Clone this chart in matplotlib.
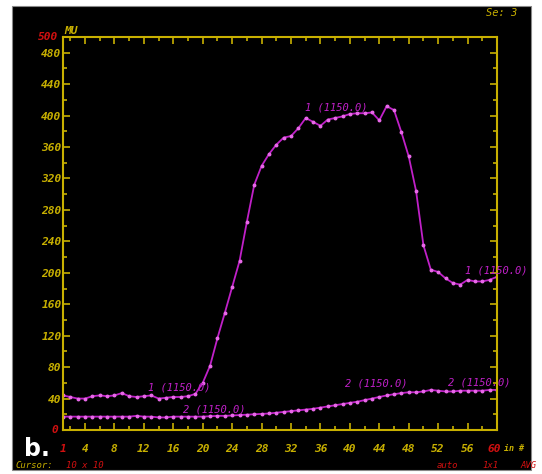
import numpy as np
import matplotlib.pyplot as plt
from matplotlib.patches import Rectangle

# scan index 1..60
x = np.arange(1, 61)

# channel 1 (upper trace)
ch1 = [44, 42, 40, 40, 43, 44, 43, 44, 47, 43,
       42, 43, 44, 40, 41, 42, 42, 43, 46, 60,
       82, 117, 149, 182, 215, 265, 312, 336, 351, 363,
       372, 374, 384, 397, 392, 387, 395, 397, 399, 402,
       403, 403, 404, 394, 412, 407, 379, 348, 304, 235,
       204, 201, 193, 187, 185, 191, 189, 189, 191, 195]

# channel 2 (lower trace)
ch2 = [17, 17, 17, 17, 17, 17, 17, 17, 17, 17,
       18, 17, 17, 16, 16, 17, 17, 17, 17, 17,
       17.5, 18, 18, 18.5, 19, 19.5, 20, 20.5, 21, 22,
       23, 24, 25, 26, 27, 28.5, 30, 31.5, 33, 34.5,
       36, 38, 40, 42, 44, 45.5, 47, 48, 48, 49,
       51, 50, 49, 49, 50, 50, 50, 50, 51, 51]

# trace labels: (x, y, text)
labels = [(12.6, 48, "1 (1150.0)"), (33.9, 404, "1 (1150.0)"), (55.6, 196, "1 (1150.0)"),
          (17.3, 20, "2 (1150.0)"), (39.3, 53, "2 (1150.0)"), (53.3, 54, "2 (1150.0)")]

yticks = list(range(40, 481, 40))
xticks = [4, 8, 12, 16, 20, 24, 28, 32, 36, 40, 44, 48, 52, 56]

YEL = "#c8b000"
RED = "#d01010"
MAG = "#c020c8"
DOT = "#e868e8"
MONO = "DejaVu Sans Mono"
TK = dict(family=MONO, style="italic", fontweight="bold", fontsize=8)

fig = plt.figure(figsize=(5.42, 4.74), dpi=100)
fig.patch.set_facecolor("white")
fig.patches.append(Rectangle((12 / 542, 4 / 474), 519 / 542, 464 / 474,
                             transform=fig.transFigure, facecolor="black",
                             edgecolor="#888888", lw=0.8, zorder=-1))

ax = fig.add_axes([63 / 542, 1 - 430 / 474, 434 / 542, 393 / 474])
ax.set_facecolor("black")
ax.plot(x, ch1, color=MAG, lw=1.3, marker="o", ms=1.8, mfc=DOT, mec=DOT)
ax.plot(x, ch2, color=MAG, lw=1.3, marker="o", ms=1.8, mfc=DOT, mec=DOT)
for lx, ly, t in labels:
    ax.text(lx, ly, t, color=MAG, fontsize=7.5, family=MONO, style="italic",
            va="bottom", ha="left")

ax.set_xlim(1, 60)
ax.set_ylim(0, 500)
for s in ax.spines.values():
    s.set_color(YEL)
    s.set_linewidth(1.5)

ax.set_xticks(xticks)
ax.set_xticks(np.arange(2, 60, 2), minor=True)
ax.set_yticks(yticks)
ax.set_yticks(np.arange(20, 500, 40), minor=True)
ax.tick_params(which="both", direction="in", colors=YEL, top=True, right=True)
ax.tick_params(which="major", length=5, width=1.2)
ax.tick_params(which="minor", length=3, width=1.2)
ax.tick_params(axis="x", pad=10)
ax.tick_params(axis="y", pad=1)
for lab in ax.get_xticklabels() + ax.get_yticklabels():
    lab.set(**TK)
    lab.set_color(YEL)

# end labels in red
ax.text(1, -24, "1", color=RED, ha="center", va="center", clip_on=False, **TK)
ax.text(59.6, -24, "60", color=RED, ha="center", va="center", clip_on=False, **TK)
ax.text(61.0, -24, "in #", color=YEL, ha="left", va="center", clip_on=False,
        family=MONO, style="italic", fontweight="bold", fontsize=6)
ax.text(0.4, 0, "0", color=RED, ha="right", va="center", clip_on=False, **TK)
ax.text(0.4, 500, "500", color=RED, ha="right", va="center", clip_on=False, **TK)
ax.text(1.2, 501, "MU", color=YEL, ha="left", va="bottom", clip_on=False, **TK)

SM = dict(family=MONO, style="italic", fontsize=6.5, va="center")
fig.text(486 / 542, 1 - 13 / 474, "Se: 3", color=YEL, ha="left",
         family=MONO, style="italic", fontsize=7.5, va="center")
fig.text(24 / 542, 1 - 449 / 474, "b.", color="white", fontsize=17,
         fontweight="bold", ha="left", va="center")
fig.text(15 / 542, 1 - 466 / 474, "Cursor:", color=YEL, ha="left", **SM)
fig.text(66 / 542, 1 - 466 / 474, "10 x 10", color=RED, ha="left", **SM)
fig.text(437 / 542, 1 - 466 / 474, "auto", color=RED, ha="left", **SM)
fig.text(482 / 542, 1 - 466 / 474, "1x1", color=RED, ha="left", **SM)
fig.text(520 / 542, 1 - 466 / 474, "AVG", color=RED, ha="left", **SM)

fig.savefig("out.png", dpi=100, facecolor=fig.get_facecolor())
